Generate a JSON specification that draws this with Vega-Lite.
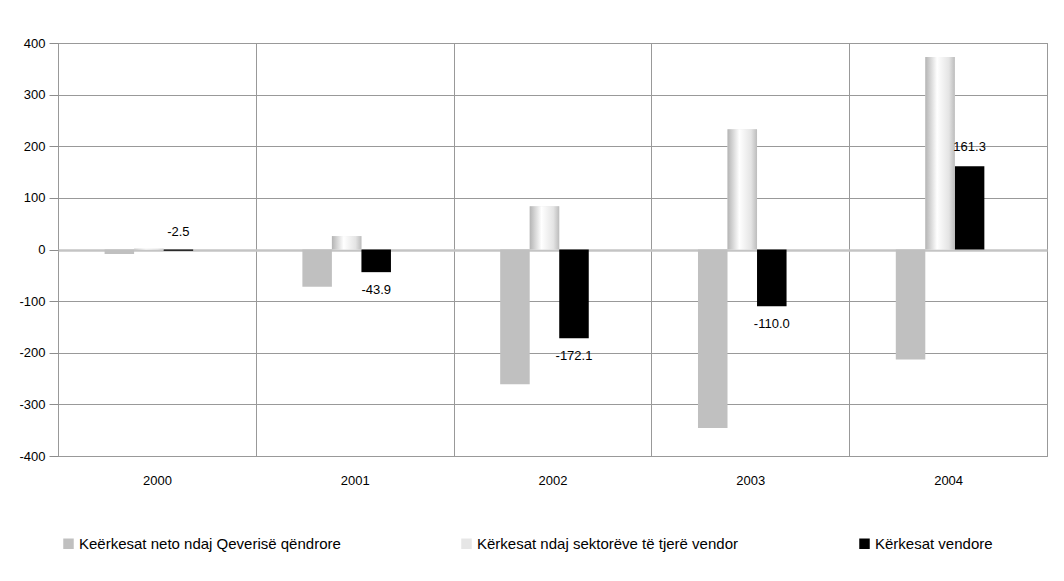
{
  "$schema": "https://vega.github.io/schema/vega-lite/v6.json",
  "width": 989,
  "height": 413,
  "autosize": {"type": "none"},
  "padding": {"left": 58, "top": 43, "right": 17, "bottom": 125},
  "background": "white",
  "config": {
    "locale": {"number": {"decimal": ".", "thousands": ",", "grouping": [3], "currency": ["", ""], "minus": "-"}},
    "view": {"stroke": "#8c8c8c", "strokeWidth": 1},
    "font": "Liberation Sans",
    "axis": {"labelFont": "Liberation Sans", "labelColor": "#000", "labelFontSize": 13},
    "legend": {"labelFont": "Liberation Sans"}
  },
  "data": {
    "values": [
      {"year": "2000", "series": "Keërkesat neto ndaj Qeverisë qëndrore", "value": -8.5},
      {"year": "2000", "series": "Kërkesat ndaj sektorëve të tjerë vendor", "value": 1.5},
      {"year": "2000", "series": "Kërkesat vendore", "value": -2.5},
      {"year": "2001", "series": "Keërkesat neto ndaj Qeverisë qëndrore", "value": -72},
      {"year": "2001", "series": "Kërkesat ndaj sektorëve të tjerë vendor", "value": 26},
      {"year": "2001", "series": "Kërkesat vendore", "value": -43.9},
      {"year": "2002", "series": "Keërkesat neto ndaj Qeverisë qëndrore", "value": -261},
      {"year": "2002", "series": "Kërkesat ndaj sektorëve të tjerë vendor", "value": 84},
      {"year": "2002", "series": "Kërkesat vendore", "value": -172.1},
      {"year": "2003", "series": "Keërkesat neto ndaj Qeverisë qëndrore", "value": -346},
      {"year": "2003", "series": "Kërkesat ndaj sektorëve të tjerë vendor", "value": 233},
      {"year": "2003", "series": "Kërkesat vendore", "value": -110.0},
      {"year": "2004", "series": "Keërkesat neto ndaj Qeverisë qëndrore", "value": -213},
      {"year": "2004", "series": "Kërkesat ndaj sektorëve të tjerë vendor", "value": 373},
      {"year": "2004", "series": "Kërkesat vendore", "value": 161.3}
    ]
  },
  "encoding": {
    "x": {
      "field": "year", "type": "nominal",
      "scale": {"paddingInner": 0, "paddingOuter": 0},
      "axis": {
        "title": null, "labelAngle": 0, "tickBand": "extent", "grid": true,
        "gridColor": "#999999", "gridWidth": 1, "ticks": false, "domain": false,
        "labelPadding": 18, "labelFontSize": 13
      }
    },
    "xOffset": {
      "field": "series", "type": "nominal",
      "scale": {
        "domain": ["_pad1", "Keërkesat neto ndaj Qeverisë qëndrore", "Kërkesat ndaj sektorëve të tjerë vendor", "Kërkesat vendore", "_pad2"],
        "paddingInner": 0, "paddingOuter": 0.85, "align": 0.34
      }
    },
    "y": {
      "field": "value", "type": "quantitative",
      "scale": {"domain": [-400, 400], "nice": false},
      "axis": {
        "title": null, "values": [-400, -300, -200, -100, 0, 100, 200, 300, 400],
        "grid": true,
        "gridColor": {"condition": {"test": "datum.value === 0", "value": "#c4c4c4"}, "value": "#999999"},
        "gridWidth": {"condition": {"test": "datum.value === 0", "value": 2.5}, "value": 1},
        "domain": false, "tickColor": "#8c8c8c", "tickSize": 9, "labelPadding": 4, "labelFontSize": 13
      }
    }
  },
  "layer": [
    {
      "mark": {"type": "bar"},
      "encoding": {
        "color": {
          "field": "series", "type": "nominal",
          "scale": {
            "domain": ["Keërkesat neto ndaj Qeverisë qëndrore", "Kërkesat ndaj sektorëve të tjerë vendor", "Kërkesat vendore"],
            "range": ["#c0c0c0", "#e6e6e6", "#000000"]
          },
          "legend": {
            "title": null, "orient": "none", "legendX": 3, "legendY": 493,
            "direction": "horizontal", "columns": 3, "gridAlign": "all", "columnPadding": 118,
            "symbolType": "square", "symbolSize": 110, "symbolStrokeWidth": 0,
            "labelFontSize": 15, "labelColor": "#000", "labelLimit": 400, "labelOffset": 3
          }
        }
      }
    },
    {
      "transform": [{"filter": "datum.series === 'Kërkesat ndaj sektorëve të tjerë vendor'"}],
      "mark": {
        "type": "bar",
        "fill": {
          "gradient": "linear", "x1": 0, "x2": 1, "y1": 0, "y2": 0,
          "stops": [
            {"offset": 0, "color": "#b4b4b4"},
            {"offset": 0.4, "color": "#ffffff"},
            {"offset": 0.8, "color": "#e4e4e4"},
            {"offset": 1, "color": "#bcbcbc"}
          ]
        }
      }
    },
    {
      "transform": [{"filter": "datum.series === 'Kërkesat vendore' && datum.value < -10"}],
      "mark": {"type": "text", "baseline": "top", "dy": 12, "fontSize": 13, "color": "#000", "font": "Liberation Sans"},
      "encoding": {"text": {"field": "value", "type": "quantitative", "format": ".1f"}}
    },
    {
      "transform": [{"filter": "datum.series === 'Kërkesat vendore' && datum.value >= -10"}],
      "mark": {"type": "text", "baseline": "bottom", "dy": -12, "fontSize": 13, "color": "#000", "font": "Liberation Sans"},
      "encoding": {"text": {"field": "value", "type": "quantitative", "format": ".1f"}}
    }
  ]
}
